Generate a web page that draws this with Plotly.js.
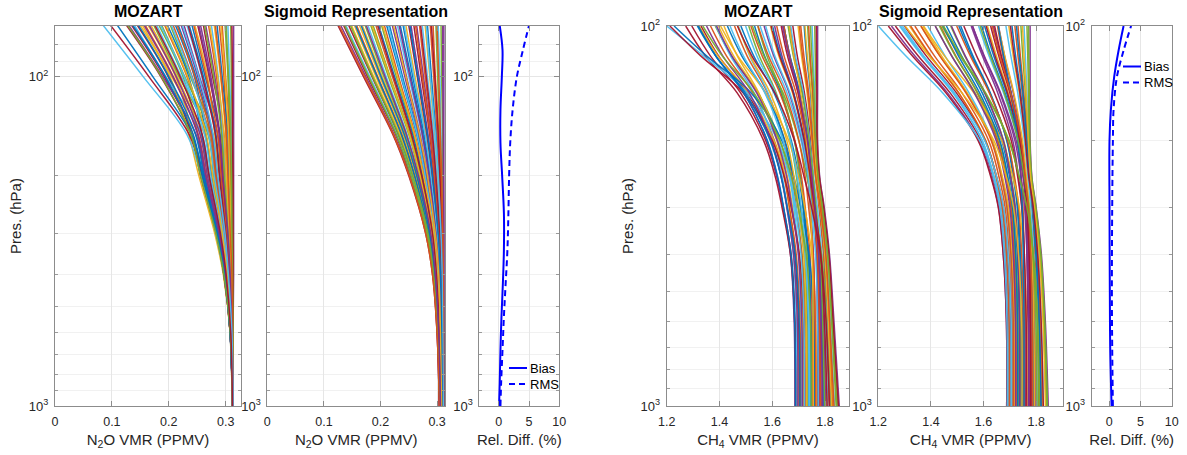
<!DOCTYPE html>
<html>
<head>
<meta charset="utf-8">
<script src="https://cdn.plot.ly/plotly-3.0.1.min.js"></script>
<style>html,body{margin:0;padding:0;background:#fff;}#chart{width:1187px;height:455px;}</style>
</head>
<body>
<div id="chart"></div>
<script>
// ---------------- DATA ----------------
// N2O profiles: pressure levels (hPa)
const n2oPres = [1000, 600, 400, 300, 200, 150, 100, 70];
// MOZART N2O profiles (ppmv) at n2oPres
const n2oMozart = [
[.312,.310,.305,.298,.284,.275,.248,.217],[.313,.313,.311,.309,.304,.302,.297,.289],
[.312,.308,.302,.293,.274,.263,.205,.154],[.313,.312,.308,.304,.296,.290,.274,.256],
[.312,.309,.299,.288,.265,.251,.225,.183],[.313,.313,.313,.312,.311,.310,.307,.304],
[.312,.308,.297,.284,.258,.242,.192,.135],[.313,.311,.308,.304,.296,.290,.264,.241],
[.313,.312,.309,.305,.297,.293,.284,.270],[.312,.309,.300,.290,.269,.256,.215,.169],
[.313,.313,.314,.314,.314,.314,.314,.314],[.312,.310,.305,.299,.286,.278,.238,.203],
[.313,.311,.305,.297,.283,.274,.258,.232],[.312,.308,.297,.283,.256,.240,.199,.145],
[.313,.313,.311,.310,.306,.304,.294,.285],[.312,.310,.303,.294,.276,.265,.232,.193],
[.313,.311,.306,.300,.289,.281,.268,.246],[.312,.308,.299,.286,.263,.248,.189,.130],
[.313,.313,.312,.311,.308,.307,.304,.299],[.312,.309,.304,.296,.280,.270,.222,.179],
[.313,.312,.310,.307,.300,.297,.277,.261],[.312,.310,.303,.294,.276,.265,.245,.212],
[.312,.309,.300,.288,.266,.252,.208,.159],[.313,.312,.311,.308,.303,.300,.291,.280],
[.313,.311,.307,.302,.292,.286,.254,.227],[.313,.313,.313,.313,.312,.312,.310,.309],
[.312,.308,.301,.291,.271,.258,.195,.140],[.313,.311,.308,.303,.294,.289,.271,.251],
[.312,.310,.301,.291,.271,.258,.235,.198],[.313,.313,.312,.311,.309,.307,.300,.294],
[.312,.309,.297,.284,.258,.242,.212,.164],[.313,.312,.309,.306,.299,.294,.281,.265],
[.312,.310,.304,.297,.283,.274,.228,.188],[.313,.312,.309,.306,.299,.295,.287,.275],
[.312,.308,.297,.283,.256,.239,.186,.126],[.313,.311,.307,.301,.290,.283,.261,.236],
[.312,.310,.304,.296,.281,.271,.241,.208],[.312,.308,.296,.281,.253,.235,.202,.150],
[.313,.311,.305,.298,.285,.277,.251,.222],[.312,.309,.303,.295,.279,.269,.218,.174],
[.312,.308,.297,.283,.257,.232,.155,.085],[.312,.308,.297,.284,.259,.236,.165,.098],
[.312,.308,.298,.285,.261,.240,.172,.110],
[.312,.310,.305,.297,.283,.274,.246,.215],[.313,.313,.311,.310,.307,.305,.299,.292],
[.312,.308,.299,.288,.265,.251,.207,.157],[.313,.312,.309,.305,.298,.293,.279,.263],
[.312,.309,.302,.292,.274,.263,.227,.186],[.313,.313,.313,.313,.313,.312,.312,.311],
[.312,.308,.298,.284,.259,.243,.194,.137],[.313,.311,.307,.302,.292,.286,.266,.244],
[.313,.312,.310,.307,.301,.297,.286,.272],[.312,.309,.300,.289,.268,.255,.213,.166],
[.313,.313,.312,.311,.310,.309,.305,.301],[.312,.310,.304,.296,.280,.270,.240,.205],
[.313,.311,.306,.300,.289,.282,.259,.234],[.312,.308,.298,.286,.262,.247,.200,.147],
[.313,.312,.311,.308,.304,.301,.292,.282],[.312,.310,.303,.294,.277,.266,.233,.195],
[.313,.311,.308,.304,.295,.289,.272,.253],[.312,.308,.297,.283,.256,.239,.187,.128],
[.313,.311,.305,.299,.286,.278,.253,.224],[.312,.309,.301,.291,.271,.259,.220,.176]
];
// Sigmoid representation N2O profiles (ppmv) at n2oPres
const n2oSigmoid = [
[.308,.306,.302,.296,.280,.266,.239,.216],[.311,.310,.309,.308,.304,.300,.294,.288],
[.305,.302,.295,.285,.260,.236,.192,.154],[.310,.308,.306,.302,.293,.284,.268,.254],
[.306,.304,.298,.290,.269,.250,.214,.183],[.312,.311,.311,.310,.309,.307,.305,.302],
[.304,.301,.293,.282,.253,.227,.177,.135],[.309,.307,.304,.300,.288,.277,.257,.240],
[.310,.309,.307,.305,.298,.291,.279,.269],[.306,.303,.297,.287,.264,.243,.203,.168],
[.312,.312,.312,.312,.312,.312,.312,.312],[.307,.305,.300,.293,.275,.259,.228,.202],
[.309,.307,.303,.298,.285,.273,.250,.230],[.305,.301,.294,.283,.256,.231,.185,.144],
[.311,.310,.309,.307,.302,.298,.290,.283],[.307,.304,.299,.291,.272,.254,.221,.192],
[.309,.308,.305,.301,.290,.280,.261,.245],[.304,.300,.293,.281,.252,.224,.174,.130],
[.311,.311,.310,.310,.307,.305,.301,.298],[.306,.303,.298,.289,.267,.247,.210,.178],
[.310,.309,.306,.303,.295,.287,.272,.259],[.308,.306,.301,.295,.279,.264,.236,.211],
[.305,.302,.296,.286,.261,.238,.195,.158],[.311,.310,.308,.306,.301,.296,.287,.279],
[.308,.306,.303,.297,.283,.270,.246,.226],[.312,.312,.311,.311,.310,.310,.308,.307],
[.305,.301,.294,.282,.255,.229,.181,.139],[.309,.308,.305,.301,.291,.282,.265,.250],
[.307,.305,.300,.292,.274,.257,.225,.197],[.311,.311,.310,.309,.306,.303,.297,.293],
[.306,.302,.296,.287,.263,.240,.199,.163],[.310,.309,.307,.304,.296,.289,.276,.264],
[.307,.304,.299,.291,.271,.252,.217,.187],[.310,.310,.308,.305,.299,.294,.283,.274],
[.304,.300,.292,.280,.250,.222,.170,.125],[.309,.307,.304,.299,.287,.275,.254,.235],
[.307,.305,.301,.294,.277,.261,.232,.207],[.305,.302,.295,.284,.258,.234,.188,.149],
[.308,.306,.302,.296,.282,.268,.243,.221],[.306,.303,.297,.288,.266,.245,.206,.173],
[.308,.306,.301,.295,.279,.265,.237,.214],[.311,.311,.310,.308,.305,.302,.296,.290],
[.305,.302,.295,.285,.260,.237,.194,.156],[.310,.309,.307,.303,.295,.288,.274,.262],
[.307,.304,.298,.290,.270,.251,.216,.185],[.312,.312,.312,.312,.311,.311,.310,.310],
[.305,.301,.293,.282,.254,.228,.179,.137],[.309,.308,.305,.300,.289,.279,.259,.242],
[.310,.309,.308,.305,.298,.292,.281,.271],[.306,.303,.296,.287,.264,.242,.201,.166],
[.311,.311,.311,.310,.308,.306,.303,.300],[.307,.305,.300,.294,.276,.260,.230,.204],
[.309,.307,.304,.298,.286,.274,.252,.233],[.305,.301,.294,.284,.257,.232,.186,.147],
[.311,.310,.309,.307,.302,.297,.288,.281],[.307,.304,.299,.292,.273,.255,.223,.195],
[.309,.308,.306,.302,.292,.283,.266,.252],[.304,.300,.292,.280,.251,.223,.172,.127],
[.308,.306,.303,.297,.283,.269,.245,.223],[.306,.303,.297,.289,.267,.246,.208,.175]
];
// N2O relative difference (%)
const n2oDiffPres = [1000, 853, 676, 535, 424, 336, 260, 200, 159, 126, 100, 83, 70];
const n2oBias = [0.06, 0.17, 0.29, 0.46, 0.69, 0.86, 0.86, 0.57, 0.29, 0.29, 0.52, 0.63, 0.17];
const n2oRms  = [0.29, 0.40, 0.63, 0.86, 1.15, 1.44, 1.60, 1.72, 1.90, 2.30, 3.00, 4.00, 5.00];

// CH4 profiles: pressure levels (hPa)
const ch4Pres = [1000, 600, 400, 300, 250, 200, 150, 120, 100];
// MOZART CH4 profiles (ppmv)
const ch4Mozart = [
[1.746,1.745,1.736,1.720,1.707,1.684,1.633,1.571,1.533],[1.815,1.804,1.794,1.777,1.764,1.753,1.738,1.720,1.708],
[1.699,1.697,1.686,1.665,1.648,1.617,1.549,1.468,1.417],[1.780,1.777,1.770,1.758,1.750,1.735,1.704,1.667,1.644],
[1.729,1.727,1.713,1.687,1.666,1.629,1.546,1.446,1.384],[1.836,1.820,1.806,1.788,1.774,1.766,1.761,1.755,1.751],
[1.690,1.687,1.672,1.642,1.618,1.575,1.480,1.366,1.295],[1.797,1.790,1.780,1.764,1.752,1.735,1.704,1.667,1.644],
[1.759,1.758,1.754,1.745,1.738,1.726,1.698,1.665,1.644],[1.716,1.714,1.701,1.677,1.658,1.623,1.546,1.454,1.396],
[1.854,1.834,1.817,1.797,1.780,1.772,1.772,1.772,1.772],[1.741,1.739,1.732,1.717,1.705,1.684,1.637,1.580,1.545],
[1.789,1.784,1.771,1.750,1.734,1.709,1.656,1.594,1.554],[1.703,1.700,1.686,1.657,1.635,1.595,1.505,1.397,1.330],
[1.823,1.810,1.798,1.781,1.768,1.757,1.745,1.730,1.721],[1.724,1.722,1.712,1.691,1.675,1.646,1.582,1.505,1.457],
[1.806,1.797,1.783,1.760,1.742,1.720,1.677,1.625,1.593],[1.686,1.683,1.669,1.641,1.619,1.580,1.492,1.387,1.321],
[1.845,1.827,1.810,1.789,1.772,1.761,1.752,1.741,1.734],[1.711,1.709,1.700,1.682,1.667,1.642,1.584,1.515,1.472],
[1.772,1.771,1.768,1.761,1.755,1.745,1.722,1.695,1.678],[1.750,1.748,1.738,1.717,1.701,1.672,1.607,1.530,1.481],
[1.707,1.705,1.691,1.665,1.645,1.608,1.526,1.427,1.366],[1.832,1.817,1.802,1.781,1.764,1.750,1.732,1.711,1.698],
[1.763,1.762,1.756,1.744,1.735,1.718,1.681,1.637,1.609],[1.849,1.830,1.813,1.794,1.778,1.769,1.766,1.763,1.761],
[1.694,1.691,1.680,1.656,1.638,1.605,1.531,1.442,1.387],[1.785,1.781,1.773,1.759,1.748,1.732,1.698,1.658,1.634],
[1.737,1.735,1.723,1.699,1.681,1.648,1.574,1.485,1.430],[1.828,1.814,1.801,1.785,1.772,1.762,1.754,1.744,1.738],
[1.720,1.718,1.702,1.671,1.648,1.605,1.509,1.395,1.323],[1.776,1.774,1.769,1.760,1.753,1.741,1.715,1.685,1.666],
[1.733,1.731,1.723,1.706,1.692,1.668,1.615,1.551,1.511],[1.810,1.800,1.788,1.771,1.757,1.742,1.718,1.688,1.670],
[1.688,1.685,1.669,1.637,1.612,1.567,1.467,1.347,1.272],[1.793,1.787,1.776,1.757,1.743,1.722,1.681,1.632,1.601],
[1.754,1.752,1.743,1.725,1.711,1.686,1.629,1.562,1.519],[1.767,1.764,1.750,1.723,1.701,1.662,1.574,1.470,1.404],
[1.802,1.794,1.780,1.756,1.738,1.713,1.664,1.606,1.569],[1.819,1.805,1.787,1.756,1.732,1.700,1.641,1.569,1.525],
[1.742,1.739,1.722,1.690,1.665,1.620,1.505,1.340,1.200],[1.722,1.719,1.703,1.672,1.646,1.600,1.490,1.330,1.212],
[1.760,1.757,1.740,1.708,1.682,1.636,1.520,1.352,1.228],
[1.765,1.763,1.755,1.738,1.725,1.701,1.649,1.586,1.546],[1.825,1.812,1.799,1.782,1.768,1.758,1.747,1.733,1.724],
[1.697,1.695,1.681,1.655,1.634,1.596,1.513,1.413,1.351],[1.799,1.791,1.782,1.766,1.755,1.740,1.713,1.680,1.660],
[1.722,1.720,1.709,1.687,1.670,1.640,1.572,1.491,1.440],[1.851,1.831,1.815,1.795,1.779,1.770,1.769,1.768,1.767],
[1.705,1.702,1.687,1.657,1.634,1.592,1.498,1.386,1.316],[1.782,1.779,1.771,1.756,1.745,1.727,1.690,1.645,1.617],
[1.756,1.755,1.752,1.745,1.739,1.730,1.708,1.682,1.665],[1.714,1.712,1.699,1.674,1.655,1.619,1.541,1.447,1.389],
[1.842,1.825,1.810,1.790,1.774,1.764,1.758,1.750,1.745],[1.739,1.737,1.728,1.710,1.695,1.669,1.612,1.542,1.499],
[1.808,1.798,1.784,1.761,1.744,1.721,1.679,1.628,1.596],[1.688,1.685,1.671,1.643,1.621,1.581,1.492,1.386,1.320],
[1.834,1.818,1.803,1.782,1.765,1.752,1.735,1.715,1.703],[1.731,1.729,1.719,1.699,1.683,1.655,1.592,1.517,1.470],
[1.791,1.785,1.776,1.762,1.750,1.733,1.701,1.663,1.639],[1.748,1.745,1.729,1.698,1.673,1.629,1.530,1.411,1.337],
[1.774,1.772,1.764,1.748,1.736,1.715,1.667,1.610,1.575],[1.817,1.804,1.783,1.749,1.721,1.684,1.610,1.523,1.468]
];
// Sigmoid representation CH4 profiles (ppmv)
const ch4Sigmoid = [
[1.744,1.744,1.737,1.728,1.713,1.688,1.626,1.560,1.513],[1.809,1.804,1.795,1.784,1.772,1.763,1.747,1.731,1.719],
[1.700,1.699,1.689,1.673,1.649,1.608,1.505,1.397,1.319],[1.776,1.776,1.772,1.766,1.758,1.742,1.705,1.666,1.637],
[1.728,1.727,1.719,1.706,1.687,1.653,1.568,1.480,1.417],[1.827,1.819,1.807,1.792,1.779,1.771,1.765,1.759,1.754],
[1.692,1.691,1.680,1.662,1.635,1.589,1.473,1.352,1.265],[1.792,1.790,1.781,1.770,1.756,1.735,1.688,1.639,1.604],
[1.757,1.757,1.754,1.750,1.743,1.732,1.704,1.674,1.653],[1.716,1.715,1.706,1.691,1.670,1.632,1.538,1.441,1.370],
[1.846,1.835,1.820,1.800,1.784,1.777,1.777,1.777,1.777],[1.740,1.739,1.732,1.721,1.705,1.676,1.604,1.529,1.475],
[1.785,1.784,1.776,1.766,1.752,1.730,1.676,1.621,1.581],[1.704,1.703,1.692,1.675,1.650,1.606,1.497,1.383,1.300],
[1.816,1.810,1.799,1.785,1.772,1.760,1.741,1.722,1.708],[1.724,1.723,1.716,1.704,1.686,1.654,1.576,1.495,1.436],
[1.800,1.796,1.786,1.774,1.758,1.738,1.694,1.649,1.615],[1.688,1.687,1.675,1.657,1.630,1.582,1.463,1.339,1.250],
[1.838,1.828,1.814,1.795,1.778,1.769,1.759,1.749,1.742],[1.711,1.710,1.702,1.688,1.668,1.633,1.545,1.454,1.388],
[1.769,1.769,1.765,1.760,1.752,1.738,1.704,1.668,1.642],[1.748,1.748,1.741,1.731,1.716,1.689,1.624,1.555,1.506],
[1.708,1.707,1.697,1.682,1.659,1.619,1.518,1.414,1.339],[1.824,1.816,1.804,1.787,1.771,1.758,1.736,1.713,1.696],
[1.761,1.761,1.755,1.746,1.733,1.711,1.654,1.596,1.553],[1.842,1.832,1.817,1.797,1.782,1.774,1.771,1.768,1.765],
[1.696,1.695,1.684,1.667,1.641,1.595,1.483,1.366,1.281],[1.781,1.780,1.775,1.767,1.757,1.741,1.700,1.658,1.627],
[1.736,1.735,1.728,1.716,1.699,1.669,1.595,1.517,1.459],[1.820,1.813,1.803,1.788,1.775,1.766,1.753,1.740,1.731],
[1.720,1.719,1.710,1.695,1.672,1.633,1.536,1.435,1.362],[1.772,1.772,1.769,1.764,1.757,1.744,1.713,1.680,1.657],
[1.732,1.731,1.723,1.711,1.692,1.659,1.578,1.493,1.432],[1.804,1.800,1.791,1.779,1.768,1.755,1.730,1.704,1.685],
[1.688,1.687,1.675,1.656,1.628,1.579,1.457,1.330,1.238],[1.788,1.786,1.779,1.768,1.753,1.732,1.682,1.630,1.593],
[1.752,1.751,1.745,1.734,1.718,1.691,1.622,1.550,1.498],[1.764,1.763,1.753,1.736,1.712,1.669,1.563,1.452,1.372],
[1.796,1.792,1.783,1.767,1.750,1.724,1.665,1.603,1.558],[1.813,1.806,1.789,1.765,1.736,1.696,1.605,1.511,1.442],
[1.700,1.699,1.688,1.670,1.640,1.585,1.445,1.305,1.200],
[1.762,1.762,1.755,1.745,1.730,1.705,1.641,1.574,1.525],[1.819,1.812,1.801,1.787,1.774,1.765,1.750,1.736,1.725],
[1.698,1.697,1.687,1.671,1.648,1.607,1.506,1.400,1.323],[1.794,1.791,1.784,1.774,1.763,1.748,1.715,1.681,1.656],
[1.722,1.721,1.713,1.700,1.681,1.648,1.565,1.479,1.416],[1.843,1.832,1.818,1.799,1.783,1.776,1.774,1.772,1.771],
[1.706,1.705,1.694,1.676,1.650,1.604,1.490,1.371,1.285],[1.778,1.778,1.773,1.765,1.755,1.737,1.691,1.644,1.610],
[1.754,1.754,1.751,1.747,1.741,1.730,1.704,1.676,1.656],[1.714,1.713,1.704,1.689,1.667,1.629,1.533,1.434,1.362],
[1.835,1.826,1.812,1.794,1.779,1.770,1.762,1.754,1.748],[1.738,1.737,1.731,1.720,1.703,1.675,1.605,1.531,1.478],
[1.803,1.799,1.788,1.773,1.755,1.731,1.679,1.626,1.587],[1.690,1.689,1.679,1.662,1.637,1.594,1.486,1.373,1.292],
[1.827,1.819,1.806,1.789,1.772,1.759,1.738,1.717,1.702],[1.730,1.729,1.722,1.710,1.692,1.662,1.585,1.505,1.447],
[1.787,1.785,1.779,1.770,1.759,1.742,1.703,1.662,1.633],[1.746,1.745,1.733,1.714,1.687,1.639,1.518,1.393,1.302],
[1.771,1.771,1.765,1.756,1.743,1.719,1.662,1.601,1.558],[1.811,1.805,1.789,1.765,1.736,1.697,1.608,1.515,1.448]
];
// CH4 relative difference (%)
const ch4DiffPres = [1000, 700, 500, 300, 200, 166, 136, 116, 100];
const ch4Bias = [0.38, 0.16, 0.10, 0.05, 0.05, 0.27, 0.80, 1.50, 2.30];
const ch4Rms  = [0.59, 0.48, 0.43, 0.48, 0.59, 0.70, 1.24, 2.30, 3.50];

// tick labels and legend labels
const n2oTicks = [0, 0.1, 0.2, 0.3];
const n2oTickText = ['0', '0.1', '0.2', '0.3'];
const ch4Ticks = [1.2, 1.4, 1.6, 1.8];
const ch4TickText = ['1.2', '1.4', '1.6', '1.8'];
const diffTicks = [0, 5, 10];
const diffTickText = ['0', '5', '10'];
const presTicks = [100, 1000];
const presTickText = ['10<sup>2</sup>', '10<sup>3</sup>'];
const presMinorLeft = [80, 90, 200, 300, 400, 500, 600, 700, 800, 900];
const presMinorRight = [200, 300, 400, 500, 600, 700, 800, 900];
const diffSeriesNames = ['Bias', 'RMS'];

// ---------------- STYLE / BUILD ----------------
const lineColors = ['#0072BD','#D95319','#EDB120','#7E2F8E','#77AC30','#4DBEEE','#A2142F'];
const FONT = 'Liberation Sans, Arial, Helvetica, sans-serif';
const DASH = '6px,4px';
const traces = [];
function addProfiles(profiles, pres, ax) {
  profiles.forEach((p, i) => {
    traces.push({
      x: p, y: pres, xaxis: 'x' + ax, yaxis: 'y' + ax, type: 'scatter', mode: 'lines',
      line: {color: lineColors[i % lineColors.length], width: 1.5, shape: 'spline', smoothing: 1},
      opacity: 0.95, showlegend: false, hoverinfo: 'skip'
    });
  });
}
addProfiles(n2oMozart, n2oPres, '');
addProfiles(n2oSigmoid, n2oPres, '2');
addProfiles(ch4Mozart, ch4Pres, '4');
addProfiles(ch4Sigmoid, ch4Pres, '5');

function addDiff(bias, rms, pres, ax) {
  traces.push({x: bias, y: pres, xaxis: 'x' + ax, yaxis: 'y' + ax, type: 'scatter', mode: 'lines',
    name: diffSeriesNames[0], showlegend: false, line: {color: '#0000FF', width: 2, shape: 'spline'}, hoverinfo: 'skip'});
  traces.push({x: rms, y: pres, xaxis: 'x' + ax, yaxis: 'y' + ax, type: 'scatter', mode: 'lines',
    name: diffSeriesNames[1], showlegend: false, line: {color: '#0000FF', width: 2, dash: DASH, shape: 'spline'}, hoverinfo: 'skip'});
}
addDiff(n2oBias, n2oRms, n2oDiffPres, '3');
addDiff(ch4Bias, ch4Rms, ch4DiffPres, '6');

const W = 1187, H = 455;
const yDom = [(H - 406) / H, (H - 26) / H];
function xAxis(l, r, range, tv, tt, title, anchor) {
  return {
    domain: [l / W, r / W], range: range, anchor: anchor,
    tickvals: tv, ticktext: tt, ticks: 'inside', ticklen: 5, tickcolor: '#8c8c8c',
    showline: true, linecolor: '#8c8c8c', linewidth: 1, mirror: 'ticks',
    showgrid: true, gridcolor: '#e6e6e6', zeroline: false,
    tickfont: {family: FONT, size: 12.5, color: '#262626'}, ticklabelstandoff: 4,
    title: {text: title, font: {family: FONT, size: 15, color: '#262626'}, standoff: 6}
  };
}
function yAxis(range, minor, title, anchor) {
  return {
    type: 'log', domain: yDom, range: range, anchor: anchor,
    tickvals: presTicks, ticktext: presTickText, ticks: 'inside', ticklen: 5, tickcolor: '#8c8c8c',
    showline: true, linecolor: '#8c8c8c', linewidth: 1, mirror: 'ticks',
    showgrid: true, gridcolor: '#e6e6e6', zeroline: false,
    minor: {tickvals: minor, ticks: 'inside', ticklen: 3, tickcolor: '#9a9a9a', showgrid: true, gridcolor: '#f1f1f1'},
    tickfont: {family: FONT, size: 13, color: '#262626'}, ticklabelstandoff: 3,
    title: {text: title, font: {family: FONT, size: 15, color: '#262626'}, standoff: 3}
  };
}
const leftRange = [3, Math.log10(70.2)];
const rightRange = [3, 2];
const titleY = (H - 22) / H;
function panelTitle(text, ref) {
  return {text: '<b>' + text + '</b>', xref: ref, x: 0.5, yref: 'paper', y: titleY, yanchor: 'bottom',
    showarrow: false, font: {family: FONT, size: 16, color: '#000'}};
}
// MATLAB-style legends (short sample lines, no box)
const shapes = [], legendNotes = [];
function addLegend(x0, yTop, gap) {
  diffSeriesNames.forEach((nm, k) => {
    const y = (H - (yTop + k * gap)) / H;
    shapes.push({type: 'line', xref: 'paper', yref: 'paper', x0: x0 / W, x1: (x0 + 18) / W, y0: y, y1: y,
      line: {color: '#0000FF', width: 2, dash: k === 0 ? 'solid' : DASH}});
    legendNotes.push({text: nm, xref: 'paper', yref: 'paper', x: (x0 + 19) / W, y: y, xanchor: 'left', yanchor: 'middle',
      showarrow: false, font: {family: FONT, size: 13, color: '#000'}});
  });
}
addLegend(509, 368, 16);
addLegend(1123, 66.5, 16);

const layout = {
  width: W, height: H, margin: {l: 0, r: 0, t: 0, b: 0},
  paper_bgcolor: '#ffffff', plot_bgcolor: '#ffffff',
  font: {family: FONT, color: '#262626'}, showlegend: false,
  xaxis:  xAxis(55, 241, [0, 0.327], n2oTicks, n2oTickText, 'N<sub>2</sub>O VMR (PPMV)', 'y'),
  xaxis2: xAxis(267.3, 445, [0, 0.314], n2oTicks, n2oTickText, 'N<sub>2</sub>O VMR (PPMV)', 'y2'),
  xaxis3: xAxis(479.3, 559.3, [-3.2, 10], diffTicks, diffTickText, 'Rel. Diff. (%)', 'y3'),
  xaxis4: xAxis(666.7, 849.3, [1.2, 1.892], ch4Ticks, ch4TickText, 'CH<sub>4</sub> VMR (PPMV)', 'y4'),
  xaxis5: xAxis(878.3, 1063, [1.2, 1.902], ch4Ticks, ch4TickText, 'CH<sub>4</sub> VMR (PPMV)', 'y5'),
  xaxis6: xAxis(1091.7, 1171.7, [-2.8, 10], diffTicks, diffTickText, 'Rel. Diff. (%)', 'y6'),
  yaxis:  yAxis(leftRange, presMinorLeft, 'Pres. (hPa)', 'x'),
  yaxis2: yAxis(leftRange, presMinorLeft, '', 'x2'),
  yaxis3: yAxis(leftRange, presMinorLeft, '', 'x3'),
  yaxis4: yAxis(rightRange, presMinorRight, 'Pres. (hPa)', 'x4'),
  yaxis5: yAxis(rightRange, presMinorRight, '', 'x5'),
  yaxis6: yAxis(rightRange, presMinorRight, '', 'x6'),
  shapes: shapes,
  annotations: [
    panelTitle('MOZART', 'x domain'),
    panelTitle('Sigmoid Representation', 'x2 domain'),
    panelTitle('MOZART', 'x4 domain'),
    panelTitle('Sigmoid Representation', 'x5 domain')
  ].concat(legendNotes)
};
Plotly.newPlot('chart', traces, layout, {staticPlot: true, displayModeBar: false});
</script>
</body>
</html>
